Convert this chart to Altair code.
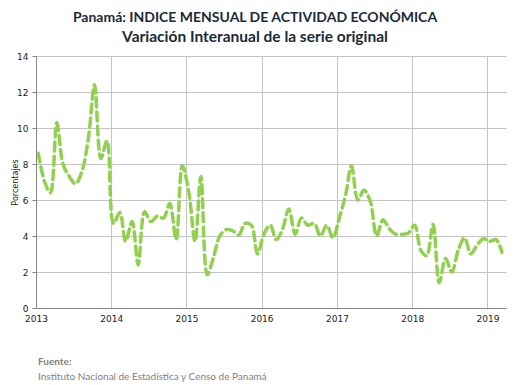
import altair as alt
import pandas as pd

# Monthly year-on-year variation, Jan 2013 - Mar 2019
values = [8.6, 7.0, 6.4, 10.3, 8.0, 7.3, 6.9, 7.6, 9.4, 12.4,
          8.3, 9.3, 4.7, 5.3, 3.7, 4.8, 2.4, 5.35, 4.8, 5.1,
          5.0, 5.8, 3.8, 7.9, 6.5, 3.7, 7.3, 1.85, 2.8, 4.0,
          4.35, 4.3, 4.05, 4.7, 4.6, 3.0, 4.1, 4.6, 3.8, 4.4,
          5.5, 4.1, 5.0, 4.6, 4.7, 4.0, 4.6, 3.9, 5.0, 6.3,
          7.9, 6.0, 6.55, 5.9, 4.0, 4.9, 4.4, 4.1, 4.1, 4.15,
          4.6, 3.2, 2.9, 4.65, 1.4, 2.75, 2.0, 3.2, 3.9, 3.0,
          3.5, 3.85, 3.7, 3.8, 3.1]
start_month = "2013-01-01"
years = [2013, 2014, 2015, 2016, 2017, 2018, 2019]
y_ticks = [0, 2, 4, 6, 8, 10, 12, 14]
footer_lines = ["Fuente:", "Instituto Nacional de Estadística y Censo de Panamá"]

dates = pd.date_range(start_month, periods=len(values), freq="MS") + pd.Timedelta(days=11)
df = pd.DataFrame({"fecha": dates, "valor": values})

x_scale = alt.Scale(domain=[alt.DateTime(year=2013, month=1, date=1),
                            alt.DateTime(year=2019, month=4, date=1)])

line = alt.Chart(df).mark_line(
    color="#92D050", strokeWidth=3.5, strokeDash=[9, 5],
    interpolate="catmull-rom", strokeCap="round"
).encode(
    x=alt.X("fecha:T", scale=x_scale, title=None,
            axis=alt.Axis(values=[alt.DateTime(year=y, month=1, date=1) for y in years],
                          format="%Y", labelFontSize=9, labelColor="#222",
                          labelFont="DejaVu Sans", ticks=False, labelPadding=6,
                          grid=True, gridColor="#c4c4c4", domainColor="#868686",
                          labelFlush=False)),
    y=alt.Y("valor:Q", scale=alt.Scale(domain=[0, 14], nice=False),
            title="Porcentajes",
            axis=alt.Axis(values=y_ticks, labelFontSize=9, labelColor="#222",
                          labelFont="DejaVu Sans", tickSize=4, tickColor="#868686",
                          labelPadding=4, grid=True, gridColor="#c4c4c4",
                          domainColor="#868686", titleFontSize=8,
                          titleFont="DejaVu Sans", titleFontWeight="normal",
                          titleColor="#222", titlePadding=-3))
)

foot_df = pd.DataFrame({"t": footer_lines, "row": [0, 1]})
foot_bold = alt.Chart(foot_df[foot_df.row == 0]).mark_text(
    align="left", baseline="alphabetic", font="Lato", fontSize=10,
    fontWeight="bold", color="#7f7f7f"
).encode(x=alt.value(2), y=alt.value(309), text="t:N")
foot_norm = alt.Chart(foot_df[foot_df.row == 1]).mark_text(
    align="left", baseline="alphabetic", font="Lato", fontSize=10,
    color="#7f7f7f"
).encode(x=alt.value(2), y=alt.value(324), text="t:N")

chart = alt.layer(line, foot_bold, foot_norm).properties(
    width=470, height=252,
    autosize=alt.AutoSizeParams(type="none"),
    padding={"left": 28, "top": 48, "right": 7, "bottom": 75},
    title=alt.TitleParams(
        text="Panamá: INDICE MENSUAL DE ACTIVIDAD ECONÓMICA",
        subtitle="Variación Interanual de la serie original",
        anchor="middle", frame="group", dx=-16,
        font="Lato", fontSize=14, fontWeight="bold", color="#1b2a3a",
        subtitleFont="Lato", subtitleFontSize=15.5, subtitleFontWeight="bold",
        subtitleColor="#1b2a3a", subtitlePadding=5, offset=7
    )
).configure_view(stroke=None)

chart.save("out.html", embed_options={"renderer": "svg", "actions": False})
